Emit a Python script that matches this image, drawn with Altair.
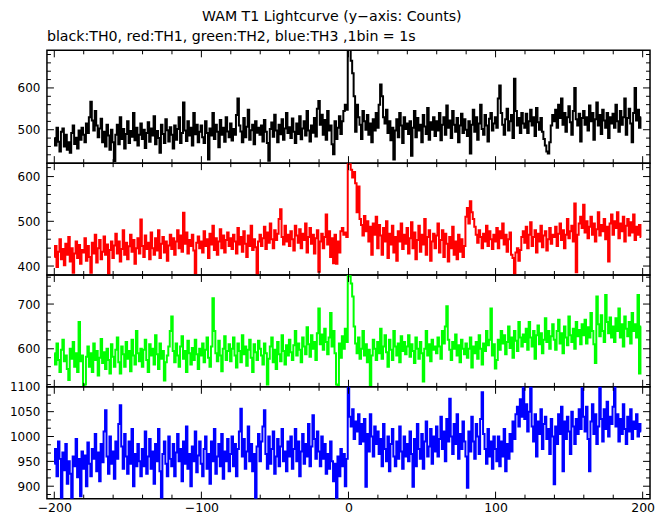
import altair as alt
import pandas as pd

# ---- data (counts per 1 s bin, t = -200 ... 199) ----
T_START = -200

th0 = [
    480, 462, 505, 471, 448, 495, 503, 460, 488, 452, 470, 445, 492, 510, 466, 481, 455, 498, 476, 505,
    488, 470, 515, 492, 530, 567, 522, 498, 545, 510, 482, 503, 526, 470, 495, 460, 512, 486, 452, 500,
    470, 425, 488, 512, 465, 530, 478, 502, 455, 490, 520, 468, 497, 483, 540, 475, 505, 462, 488, 515,
    478, 500, 456, 492, 518, 471, 503, 486, 532, 465, 497, 480, 445, 512, 490, 468, 525, 499, 472, 506,
    488, 455, 510, 476, 502, 530, 468, 492, 565, 498, 473, 520, 486, 505, 462, 540, 489, 512, 470, 495,
    510, 482, 468, 520, 492, 429, 503, 486, 540, 478, 512, 495, 458, 523, 488, 505, 471, 530, 496, 482,
    515, 474, 502, 488, 535, 575, 510, 496, 470, 528, 482, 507, 548, 476, 499, 512, 465, 520, 493, 505,
    488, 510, 472, 523, 495, 468, 426, 502, 517, 483, 536, 498, 470, 512, 489, 525, 476, 503, 540, 492,
    506, 480, 527, 495, 468, 515, 490, 532, 477, 503, 520, 486, 545, 498, 472, 510, 493, 528, 484, 550,
    569, 512, 536, 488, 523, 476, 545, 498, 510, 465, 441, 520, 478, 505, 532, 490, 520, 545, 560, 548,
    695, 692, 665, 635, 580, 495, 560, 530, 512, 478, 545, 520, 500, 535, 488, 515, 470, 525, 498, 540,
    505, 560, 608, 580, 530, 515, 548, 492, 520, 475, 505, 429, 498, 525, 482, 540, 510, 468, 530, 502,
    515, 490, 520, 438, 505, 545, 482, 528, 498, 512, 470, 535, 508, 490, 552, 476, 518, 500, 530, 485,
    520, 498, 540, 475, 512, 530, 488, 558, 505, 522, 480, 545, 512, 495, 528, 470, 510, 538, 492, 525,
    500, 485, 520, 443, 512, 548, 495, 530, 476, 515, 560, 502, 488, 535, 510, 472, 526, 540, 498, 515,
    530, 505, 575, 606, 540, 512, 488, 525, 550, 498, 520, 535, 480, 622, 545, 510, 528, 492, 540, 515,
    505, 538, 492, 520, 548, 510, 530, 485, 552, 518, 500, 528, 495, 478, 462, 448, 443, 470, 510, 535,
    520, 548, 505, 560, 528, 575, 512, 540, 495, 530, 556, 518, 488, 545, 600, 525, 510, 538, 472, 528,
    545, 512, 530, 498, 558, 520, 540, 476, 525, 565, 510, 535, 490, 548, 522, 505, 540, 480, 530, 515,
    538, 505, 560, 520, 495, 545, 512, 530, 575, 488, 528, 550, 515, 470, 540, 600, 522, 548, 505, 530,
]

th1 = [
    420, 445, 398, 432, 460, 415, 438, 402, 450, 425, 465, 410, 440, 385, 428, 455, 418, 447, 405, 436,
    430, 462, 412, 445, 420, 385, 452, 428, 470, 408, 440, 458, 415, 432, 466, 425, 448, 380, 436, 455,
    418, 446, 472, 428, 455, 410, 438, 480, 425, 452, 415, 444, 470, 432, 458, 405, 440, 462, 428, 504,
    445, 420, 468, 438, 452, 415, 475, 440, 425, 462, 435, 480, 418, 450, 465, 430, 455, 412, 446, 470,
    438, 462, 425, 455, 480, 440, 468, 432, 519, 450, 475, 428, 458, 445, 470, 435, 384, 452, 466, 440,
    455, 430, 478, 445, 460, 418, 472, 448, 490, 436, 462, 425, 455, 482, 440, 468, 430, 458, 475, 445,
    462, 438, 470, 455, 428, 485, 448, 465, 432, 478, 450, 420, 468, 445, 490, 436, 460, 442, 380, 455,
    470, 445, 462, 488, 438, 475, 452, 495, 460, 440, 480, 458, 472, 505, 527, 465, 448, 490, 455, 470,
    445, 478, 460, 435, 490, 468, 452, 482, 440, 472, 458, 495, 430, 465, 485, 450, 470, 428, 462, 480,
    387, 455, 472, 440, 465, 515, 448, 478, 420, 462, 406, 470, 405, 455, 430, 478, 485, 470, 475, 465,
    632, 628, 615, 598, 610, 585, 520, 578, 505, 492, 468, 512, 478, 500, 455, 488, 425, 495, 470, 510,
    440, 492, 468, 425, 485, 455, 500, 418, 472, 448, 490, 430, 465, 412, 478, 455, 495, 438, 470, 450,
    485, 428, 462, 498, 440, 475, 415, 458, 490, 432, 470, 448, 505, 425, 465, 480, 412, 455, 472, 440,
    468, 495, 430, 458, 480, 420, 472, 450, 410, 465, 440, 488, 425, 455, 415, 470, 432, 460, 420, 445,
    510, 530, 495, 545, 520, 505, 488, 470, 452, 480, 465, 440, 472, 455, 490, 445, 478, 460, 438, 470,
    455, 485, 440, 478, 462, 495, 448, 470, 432, 460, 475, 425, 418, 383, 430, 440, 412, 436, 465, 478,
    452, 488, 440, 470, 498, 445, 465, 480, 430, 472, 455, 490, 442, 468, 478, 435, 460, 485, 450, 470,
    465, 488, 445, 472, 495, 458, 480, 440, 470, 505, 462, 478, 490, 455, 540, 386, 470, 495, 510, 485,
    537, 475, 500, 462, 488, 510, 470, 495, 455, 482, 520, 468, 492, 478, 505, 460, 488, 410, 495, 515,
    470, 500, 485, 520, 462, 495, 478, 510, 455, 490, 505, 468, 498, 475, 515, 458, 488, 470, 492, 465,
]

th2 = [
    590, 565, 612, 575, 548, 598, 620, 572, 585, 555, 530, 600, 578, 615, 560, 590, 548, 660, 572, 585,
    516, 520, 582, 605, 560, 590, 548, 612, 575, 595, 540, 580, 622, 568, 592, 555, 600, 575, 545, 610,
    582, 560, 598, 625, 570, 545, 605, 588, 560, 615, 578, 595, 550, 620, 585, 565, 640, 590, 572, 600,
    560, 598, 620, 575, 548, 610, 585, 600, 565, 630, 588, 555, 612, 578, 595, 529, 570, 585, 605, 640,
    672, 595, 570, 612, 585, 560, 605, 628, 578, 595, 548, 618, 590, 565, 602, 575, 620, 588, 555, 600,
    585, 612, 570, 598, 625, 580, 560, 605, 713, 640, 590, 572, 618, 585, 550, 600, 628, 575, 595, 610,
    572, 600, 625, 585, 558, 612, 595, 570, 630, 588, 605, 562, 598, 620, 580, 548, 610, 592, 575, 618,
    600, 585, 565, 612, 590, 520, 578, 605, 625, 570, 598, 555, 615, 588, 572, 630, 595, 565, 608, 585,
    620, 592, 575, 608, 640, 585, 612, 598, 570, 625, 605, 588, 648, 610, 582, 630, 600, 615, 575, 635,
    690, 610, 632, 598, 645, 615, 588, 625, 680, 605, 640, 590, 520, 516, 612, 580, 628, 600, 645, 615,
    765, 762, 746, 717, 650, 612, 590, 625, 578, 600, 640, 585, 610, 570, 598, 516, 585, 620, 600, 575,
    615, 590, 645, 578, 605, 630, 592, 560, 620, 598, 575, 640, 605, 585, 612, 570, 628, 595, 615, 588,
    605, 630, 582, 610, 595, 568, 625, 600, 578, 615, 590, 527, 600, 640, 585, 610, 572, 620, 598, 605,
    590, 625, 605, 578, 640, 612, 650, 695, 620, 598, 575, 615, 600, 632, 585, 608, 570, 620, 600, 588,
    612, 580, 600, 625, 558, 605, 590, 615, 578, 630, 600, 565, 612, 595, 640, 608, 620, 690, 585, 610,
    556, 575, 620, 598, 640, 612, 630, 588, 615, 650, 602, 625, 580, 640, 618, 595, 660, 625, 605, 632,
    615, 645, 598, 660, 625, 605, 640, 578, 630, 652, 610, 635, 590, 620, 668, 615, 640, 600, 628, 655,
    620, 598, 640, 665, 612, 635, 590, 650, 625, 608, 672, 630, 615, 645, 600, 660, 628, 642, 610, 655,
    630, 665, 612, 648, 625, 680, 640, 610, 568, 717, 655, 628, 675, 640, 615, 720, 660, 635, 670, 625,
    650, 615, 668, 640, 690, 625, 655, 605, 672, 645, 628, 660, 612, 680, 640, 655, 625, 720, 545, 650,
]

th3 = [
    945, 975, 920, 990, 955, 874, 968, 932, 985, 905, 950, 925, 874, 960, 940, 995, 918, 955, 880, 970,
    935, 962, 900, 988, 945, 920, 975, 955, 1005, 930, 968, 910, 985, 948, 1010, 1053, 960, 925, 1000, 945,
    970, 915, 990, 955, 1025, 1063, 980, 935, 1005, 960, 925, 990, 945, 1015, 900, 965, 940, 985, 950, 920,
    975, 940, 1010, 925, 960, 995, 935, 970, 905, 985, 950, 1015, 930, 877, 965, 990, 945, 920, 1000, 955,
    940, 985, 920, 968, 1005, 950, 975, 910, 990, 945, 1020, 935, 965, 900, 980, 950, 1010, 928, 962, 990,
    945, 920, 975, 1000, 935, 965, 905, 990, 950, 1015, 925, 960, 985, 940, 1005, 915, 970, 950, 995, 930,
    965, 1000, 940, 985, 920, 975, 1010, 1056, 960, 995, 935, 970, 1020, 950, 985, 930, 965, 874, 980, 1005,
    950, 990, 1020, 1053, 965, 935, 1000, 945, 975, 1010, 925, 960, 995, 940, 980, 1015, 950, 970, 930, 990,
    960, 1000, 935, 975, 1015, 950, 990, 920, 970, 1005, 945, 985, 960, 1025, 940, 980, 1043, 995, 955, 1010,
    970, 940, 1000, 955, 985, 925, 965, 935, 990, 950, 910, 945, 876, 960, 920, 975, 940, 965, 900, 955,
    1100, 1040, 1020, 1055, 995, 1030, 1010, 1045, 985, 1025, 990, 1035, 899, 1005, 970, 1045, 1000, 960, 1020, 985,
    1010, 965, 995, 940, 1025, 975, 950, 1000, 930, 985, 1015, 960, 940, 990, 955, 1020, 970, 935, 1000, 960,
    985, 950, 1010, 965, 899, 995, 940, 1025, 975, 955, 1005, 935, 990, 1030, 960, 980, 1015, 945, 1000, 970,
    1020, 960, 995, 1040, 975, 1010, 950, 1035, 990, 1076, 1000, 965, 1025, 985, 1045, 955, 1005, 975, 1030, 990,
    960, 897, 1010, 970, 1040, 990, 955, 1025, 1000, 965, 1035, 1089, 1005, 975, 945, 1015, 960, 990, 935, 1000,
    975, 950, 1000, 940, 990, 960, 1015, 930, 985, 955, 1005, 970, 1030, 995, 1045, 1060, 1020, 1075, 1040, 1100,
    1035, 1065, 1010, 1050, 1100, 1020, 990, 1045, 960, 1030, 1005, 1055, 975, 1025, 1040, 995, 1015, 965, 1035, 1000,
    904, 1020, 985, 1045, 1005, 1060, 930, 1030, 995, 1040, 1010, 965, 1050, 1020, 985, 1035, 1005, 1055, 1015, 1097,
    1040, 1010, 1060, 995, 930, 1030, 1065, 1005, 1045, 985, 1020, 1100, 1035, 990, 1055, 1015, 1070, 1000, 1040, 1025,
    1060, 1100, 1020, 1045, 990, 1035, 1005, 1065, 1015, 985, 1040, 1010, 1055, 995, 1030, 1015, 1045, 1000, 1025, 1010,
]

# axis ranges / tick values
X_DOMAIN = [-205, 205]
X_LABELS = [-200, -100, 0, 100, 200]
X_MINOR = [-180, -160, -140, -120, -80, -60, -40, -20, 20, 40, 60, 80, 120, 140, 160, 180]

Y1_DOMAIN = [420, 690]
Y1_LABELS = [500, 600]
Y1_MINOR = [440, 460, 480, 520, 540, 560, 580, 620, 640, 660, 680]

Y2_DOMAIN = [380, 630]
Y2_LABELS = [400, 500, 600]
Y2_MINOR = [420, 440, 460, 480, 520, 540, 560, 580, 620]

Y3_DOMAIN = [515, 765]
Y3_LABELS = [600, 700]
Y3_MINOR = [520, 540, 560, 580, 620, 640, 660, 680, 720, 740, 760]

Y4_DOMAIN = [875, 1100]
Y4_LABELS = [900, 950, 1000, 1050, 1100]
Y4_MINOR = [883.33, 916.67, 933.33, 966.67, 983.33, 1016.67, 1033.33, 1066.67, 1083.33]

TITLE = "WAM T1 Lightcurve (y\u2212axis: Counts)"
SUBTITLE = "black:TH0, red:TH1, green:TH2, blue:TH3 ,1bin = 1s"

FONT = "DejaVu Sans"
W = 604
MAJ, MINL = 7, 4

xscale = alt.Scale(domain=X_DOMAIN, nice=False, zero=False)


def panel(values, color, ydom, ylabels, yminor, h, bottom=False):
    df = pd.DataFrame({"t": list(range(T_START, T_START + len(values))), "c": values})
    yscale = alt.Scale(domain=ydom, nice=False, zero=False)
    if bottom:
        xaxis = alt.Axis(values=X_LABELS, ticks=False, domain=False, grid=False,
                         labelPadding=3, labelFlush=False, labelFont=FONT, format="d",
                         labelFontSize=12.5, labelColor="black", title=None)
    else:
        xaxis = None
    yaxis = alt.Axis(values=ylabels, ticks=False, domain=False, grid=False,
                     labelPadding=7, labelFlush=False, labelFont=FONT, format="d",
                     labelFontSize=12, labelColor="black", minExtent=38, maxExtent=38,
                     title=None)
    line = alt.Chart(df).mark_line(color=color, strokeWidth=2.0, interpolate="step", clip=True).encode(
        x=alt.X("t:Q", scale=xscale, axis=xaxis, title=None),
        y=alt.Y("c:Q", scale=yscale, axis=yaxis, title=None),
    )
    layers = [line]
    for vals, ln in ((ylabels, MAJ), (yminor, MINL)):
        d = pd.DataFrame({"v": vals})
        for x0, x1 in ((0, ln), (W, W - ln)):
            layers.append(
                alt.Chart(d).mark_rule(color="black", strokeWidth=1).encode(
                    y=alt.Y("v:Q", scale=yscale, axis=yaxis, title=None),
                    x=alt.value(x0), x2=alt.value(x1)))
    for vals, ln in ((X_LABELS, MAJ), (X_MINOR, MINL)):
        d = pd.DataFrame({"v": vals})
        for y0, y1 in ((0, ln), (h, h - ln)):
            layers.append(
                alt.Chart(d).mark_rule(color="black", strokeWidth=1).encode(
                    x=alt.X("v:Q", scale=xscale, axis=xaxis, title=None),
                    y=alt.value(y0), y2=alt.value(y1)))
    return alt.layer(*layers).properties(width=W, height=h)


p1 = panel(th0, "#000000", Y1_DOMAIN, Y1_LABELS, Y1_MINOR, 113).properties(
    title=alt.TitleParams(SUBTITLE, anchor="start", frame="group", font=FONT, fontSize=14.2,
                          fontWeight="normal", color="black", baseline="alphabetic", offset=-5))
p2 = panel(th1, "#ff0000", Y2_DOMAIN, Y2_LABELS, Y2_MINOR, 112)
p3 = panel(th2, "#00ff00", Y3_DOMAIN, Y3_LABELS, Y3_MINOR, 112)
p4 = panel(th3, "#0000ff", Y4_DOMAIN, Y4_LABELS, Y4_MINOR, 112, bottom=True)

chart = alt.vconcat(p1, p2, p3, p4, spacing=0, bounds="flush").properties(
    title=alt.TitleParams(TITLE, anchor="middle", font=FONT, fontSize=14.2, fontWeight="normal",
                          color="black", baseline="alphabetic", offset=-6),
    padding={"left": 0, "top": 1, "right": 5, "bottom": 0},
    background="white",
).configure_view(stroke="black", strokeWidth=1.5)

chart.save("out.html", embed_options={"renderer": "svg", "actions": False})
